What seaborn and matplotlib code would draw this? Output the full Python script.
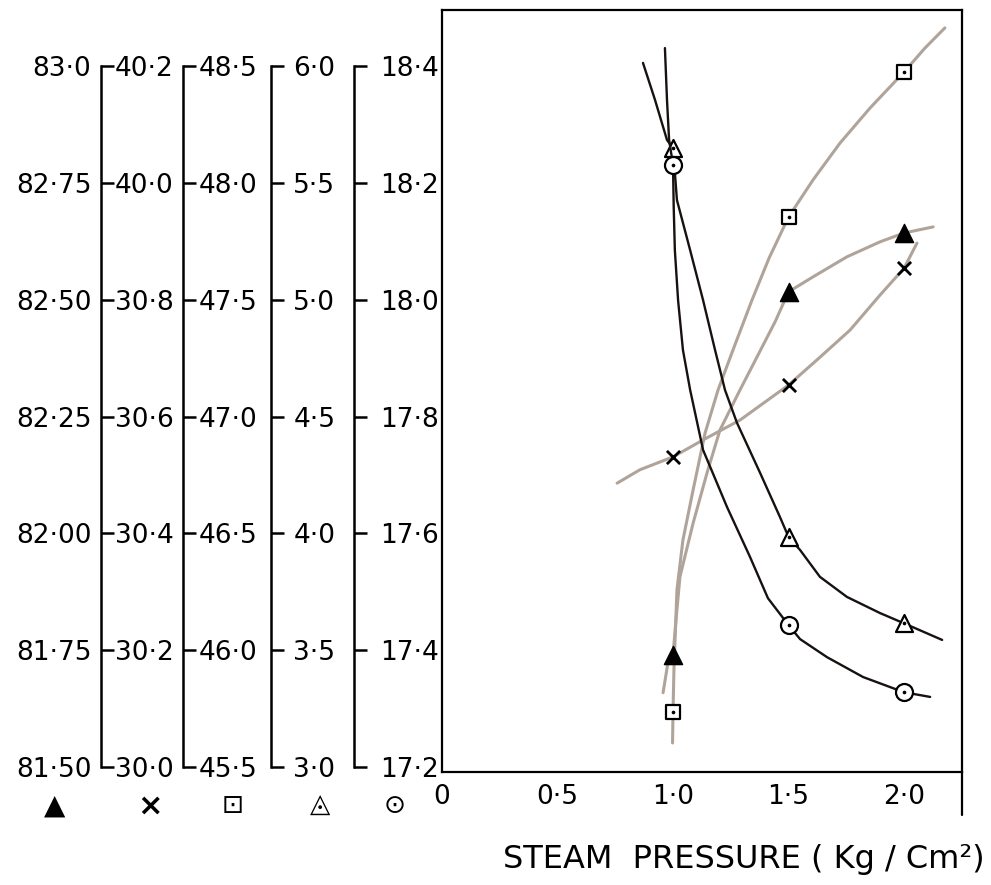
import matplotlib
matplotlib.use("Agg")
import matplotlib.pyplot as plt
import seaborn as sns
from matplotlib.lines import Line2D

# ---------------- data ----------------
pressure = [1.0, 1.5, 2.0]

tri_filled_vals = [81.740, 82.517, 82.643]   # ▲
cross_vals = [30.531, 30.654, 30.854]        # ×
square_vals = [45.735, 47.854, 48.475]       # ⊡
tri_open_vals = [5.650, 3.985, 3.615]        # △
circle_vals = [18.231, 17.443, 17.328]       # ⊙

# hand-drawn curves
tri_filled_curve_x = [0.957, 0.978, 1.0, 1.013, 1.030, 1.087, 1.147, 1.203, 1.290, 1.364,
                      1.442, 1.5, 1.606, 1.753, 1.896, 2.0, 2.126]
tri_filled_curve_y = [81.659, 81.723, 81.740, 81.815, 81.907, 82.022, 82.129, 82.221, 82.307,
                      82.378, 82.453, 82.517, 82.549, 82.592, 82.624, 82.643, 82.656]
cross_curve_x = [0.758, 0.857, 1.0, 1.130, 1.290, 1.5, 1.623, 1.766, 1.896, 2.0, 2.056]
cross_curve_y = [30.486, 30.509, 30.531, 30.560, 30.594, 30.654, 30.697, 30.748, 30.808,
                 30.854, 30.897]
square_curve_x = [0.998, 1.0, 1.004, 1.017, 1.043, 1.087, 1.139, 1.195, 1.268, 1.342, 1.416,
                  1.5, 1.606, 1.723, 1.853, 2.0, 2.091, 2.177]
square_curve_y = [45.603, 45.735, 45.915, 46.258, 46.472, 46.686, 46.930, 47.114, 47.307,
                  47.499, 47.679, 47.854, 48.013, 48.171, 48.321, 48.475, 48.578, 48.664]
tri_open_curve_x = [0.870, 0.922, 0.974, 1.0, 1.017, 1.074, 1.130, 1.182, 1.225, 1.277, 1.377,
                    1.463, 1.5, 1.550, 1.636, 1.753, 1.896, 2.0, 2.165]
tri_open_curve_y = [6.014, 5.856, 5.684, 5.650, 5.427, 5.213, 4.999, 4.785, 4.614, 4.473,
                    4.259, 4.070, 3.985, 3.929, 3.814, 3.728, 3.659, 3.615, 3.544]
circle_curve_x = [0.965, 0.974, 0.983, 1.0, 1.003, 1.008, 1.022, 1.043, 1.074, 1.130, 1.234,
                  1.333, 1.411, 1.5, 1.550, 1.667, 1.823, 2.0, 2.113]
circle_curve_y = [18.431, 18.342, 18.274, 18.231, 18.159, 18.085, 17.999, 17.914, 17.846,
                  17.743, 17.645, 17.560, 17.489, 17.443, 17.419, 17.388, 17.354, 17.328,
                  17.320]

# axis ticks and their printed labels
tri_filled_tickvals = [81.50, 81.75, 82.00, 82.25, 82.50, 82.75, 83.00]
tri_filled_ticks = ["81·50", "81·75", "82·00", "82·25", "82·50", "82·75", "83·0"]
cross_tickvals = [30.0, 30.2, 30.4, 30.6, 30.8, 31.0, 31.2]
cross_ticks = ["30·0", "30·2", "30·4", "30·6", "30·8", "40·0", "40·2"]
square_tickvals = [45.5, 46.0, 46.5, 47.0, 47.5, 48.0, 48.5]
square_ticks = ["45·5", "46·0", "46·5", "47·0", "47·5", "48·0", "48·5"]
tri_open_tickvals = [3.0, 3.5, 4.0, 4.5, 5.0, 5.5, 6.0]
tri_open_ticks = ["3·0", "3·5", "4·0", "4·5", "5·0", "5·5", "6·0"]
circle_tickvals = [17.2, 17.4, 17.6, 17.8, 18.0, 18.2, 18.4]
circle_ticks = ["17·2", "17·4", "17·6", "17·8", "18·0", "18·2", "18·4"]

x_tickvals = [0, 0.5, 1.0, 1.5, 2.0]
x_ticks = ["0", "0·5", "1·0", "1·5", "2·0"]
x_label = "STEAM  PRESSURE ( Kg / Cm²)"
symbols = ["▲", "×", "⊡", "◬", "⊙"]

# ---------------- style ----------------
sns.set_style("white")
plt.rcParams["font.family"] = ["DejaVu Sans"]
plt.rcParams["text.color"] = "black"
FS = 19
LIGHT = "#b0a49a"
DARK = "#17120f"

W, H = 991, 885
fig = plt.figure(figsize=(W / 100, H / 100), dpi=100)
fig.patch.set_facecolor("white")


def fx(px):
    return px / W


def fy(py):
    return 1 - py / H


AX_B, AX_T = fy(772), fy(10)
AX_H = AX_T - AX_B


def lims(tv):
    step = tv[1] - tv[0]
    return (tv[0] - 0.0428 * step, tv[0] + 6.481 * step)


main = fig.add_axes([fx(442), AX_B, fx(962) - fx(442), AX_H])
main.set_xlim(0, 2.251)
main.set_ylim(lims(circle_tickvals))
main.set_yticks([])
main.set_xticks(x_tickvals)
main.set_xticklabels(x_ticks, fontsize=FS)
main.tick_params(axis="x", direction="in", length=10, width=1.5, pad=9,
                 color="black", labelcolor="black")
for s in main.spines.values():
    s.set_visible(True)
    s.set_color("black")
    s.set_linewidth(1.6)
main.add_line(Line2D([1, 1], [0, -0.057], transform=main.transAxes,
                     color="black", lw=1.6, clip_on=False))
main.set_xlabel(x_label, fontsize=23, color="black")
main.xaxis.set_label_coords(0.58, -0.095)


def twin(tv):
    t = main.twinx()
    t.set_ylim(lims(tv))
    t.set_xlim(0, 2.251)
    t.axis("off")
    return t


def curve(axx, cx, cy, color, lw):
    sns.lineplot(x=cx, y=cy, ax=axx, sort=False, estimator=None,
                 color=color, lw=lw, legend=False, zorder=2)


def open_marker(axx, xs, ys, marker, s):
    sns.scatterplot(x=xs, y=ys, ax=axx, marker=marker, s=s, color="white",
                    edgecolor="black", linewidth=1.6, zorder=5, legend=False)
    sns.scatterplot(x=xs, y=ys, ax=axx, marker="o", s=7, color="black",
                    edgecolor="black", linewidth=0, zorder=6, legend=False)


# ⊡ series
a_sq = twin(square_tickvals)
curve(a_sq, square_curve_x, square_curve_y, LIGHT, 2.2)
open_marker(a_sq, pressure, square_vals, "s", 110)

# ▲ series
a_tf = twin(tri_filled_tickvals)
curve(a_tf, tri_filled_curve_x, tri_filled_curve_y, LIGHT, 2.2)
sns.scatterplot(x=pressure, y=tri_filled_vals, ax=a_tf, marker="^", s=170,
                color="black", edgecolor="black", zorder=5, legend=False)

# × series
a_cr = twin(cross_tickvals)
curve(a_cr, cross_curve_x, cross_curve_y, LIGHT, 2.2)
sns.scatterplot(x=pressure, y=cross_vals, ax=a_cr, marker="x", s=90,
                color="black", linewidth=2, zorder=5, legend=False)

# △ series
a_to = twin(tri_open_tickvals)
curve(a_to, tri_open_curve_x, tri_open_curve_y, DARK, 1.7)
open_marker(a_to, pressure, tri_open_vals, "^", 150)

# ⊙ series
a_ci = twin(circle_tickvals)
curve(a_ci, circle_curve_x, circle_curve_y, DARK, 1.7)
open_marker(a_ci, pressure, circle_vals, "o", 150)


# ---------------- stacked left-hand scales ----------------
def side_axis(px, tv, labels, pad, side="right"):
    a = fig.add_axes([fx(px), AX_B, 0.0001, AX_H])
    a.set_ylim(lims(tv))
    a.set_xticks([])
    a.patch.set_visible(False)
    for s in a.spines.values():
        s.set_visible(False)
    a.set_yticks(tv)
    a.set_yticklabels(labels, fontsize=FS, color="black")
    if side == "right":
        a.yaxis.tick_right()
        a.spines["right"].set_visible(True)
        a.spines["right"].set_linewidth(1.8)
        a.spines["right"].set_color("black")
        a.spines["right"].set_bounds(tv[0], tv[-1])
        a.tick_params(axis="y", direction="out", length=9, width=1.8,
                      pad=pad, color="black", labelcolor="black")
    else:
        a.tick_params(axis="y", length=0, pad=pad, labelcolor="black")
    return a


side_axis(101, tri_filled_tickvals, tri_filled_ticks, 7, side="left")
side_axis(101, cross_tickvals, cross_ticks, 1)
side_axis(183, square_tickvals, square_ticks, 2)
side_axis(271, tri_open_tickvals, tri_open_ticks, 7)
side_axis(354, circle_tickvals, circle_ticks, 10)

sym_x = [55, 150, 233, 320, 395]
sym_size = [20, 22, 19, 19, 19]
sym_weight = ["normal", "bold", "normal", "normal", "normal"]
for sx, sym, sz, wt in zip(sym_x, symbols, sym_size, sym_weight):
    fig.text(fx(sx), fy(806), sym, ha="center", va="center", fontsize=sz,
             fontweight=wt, color="black")

fig.savefig("out.png", dpi=100, facecolor="white")
